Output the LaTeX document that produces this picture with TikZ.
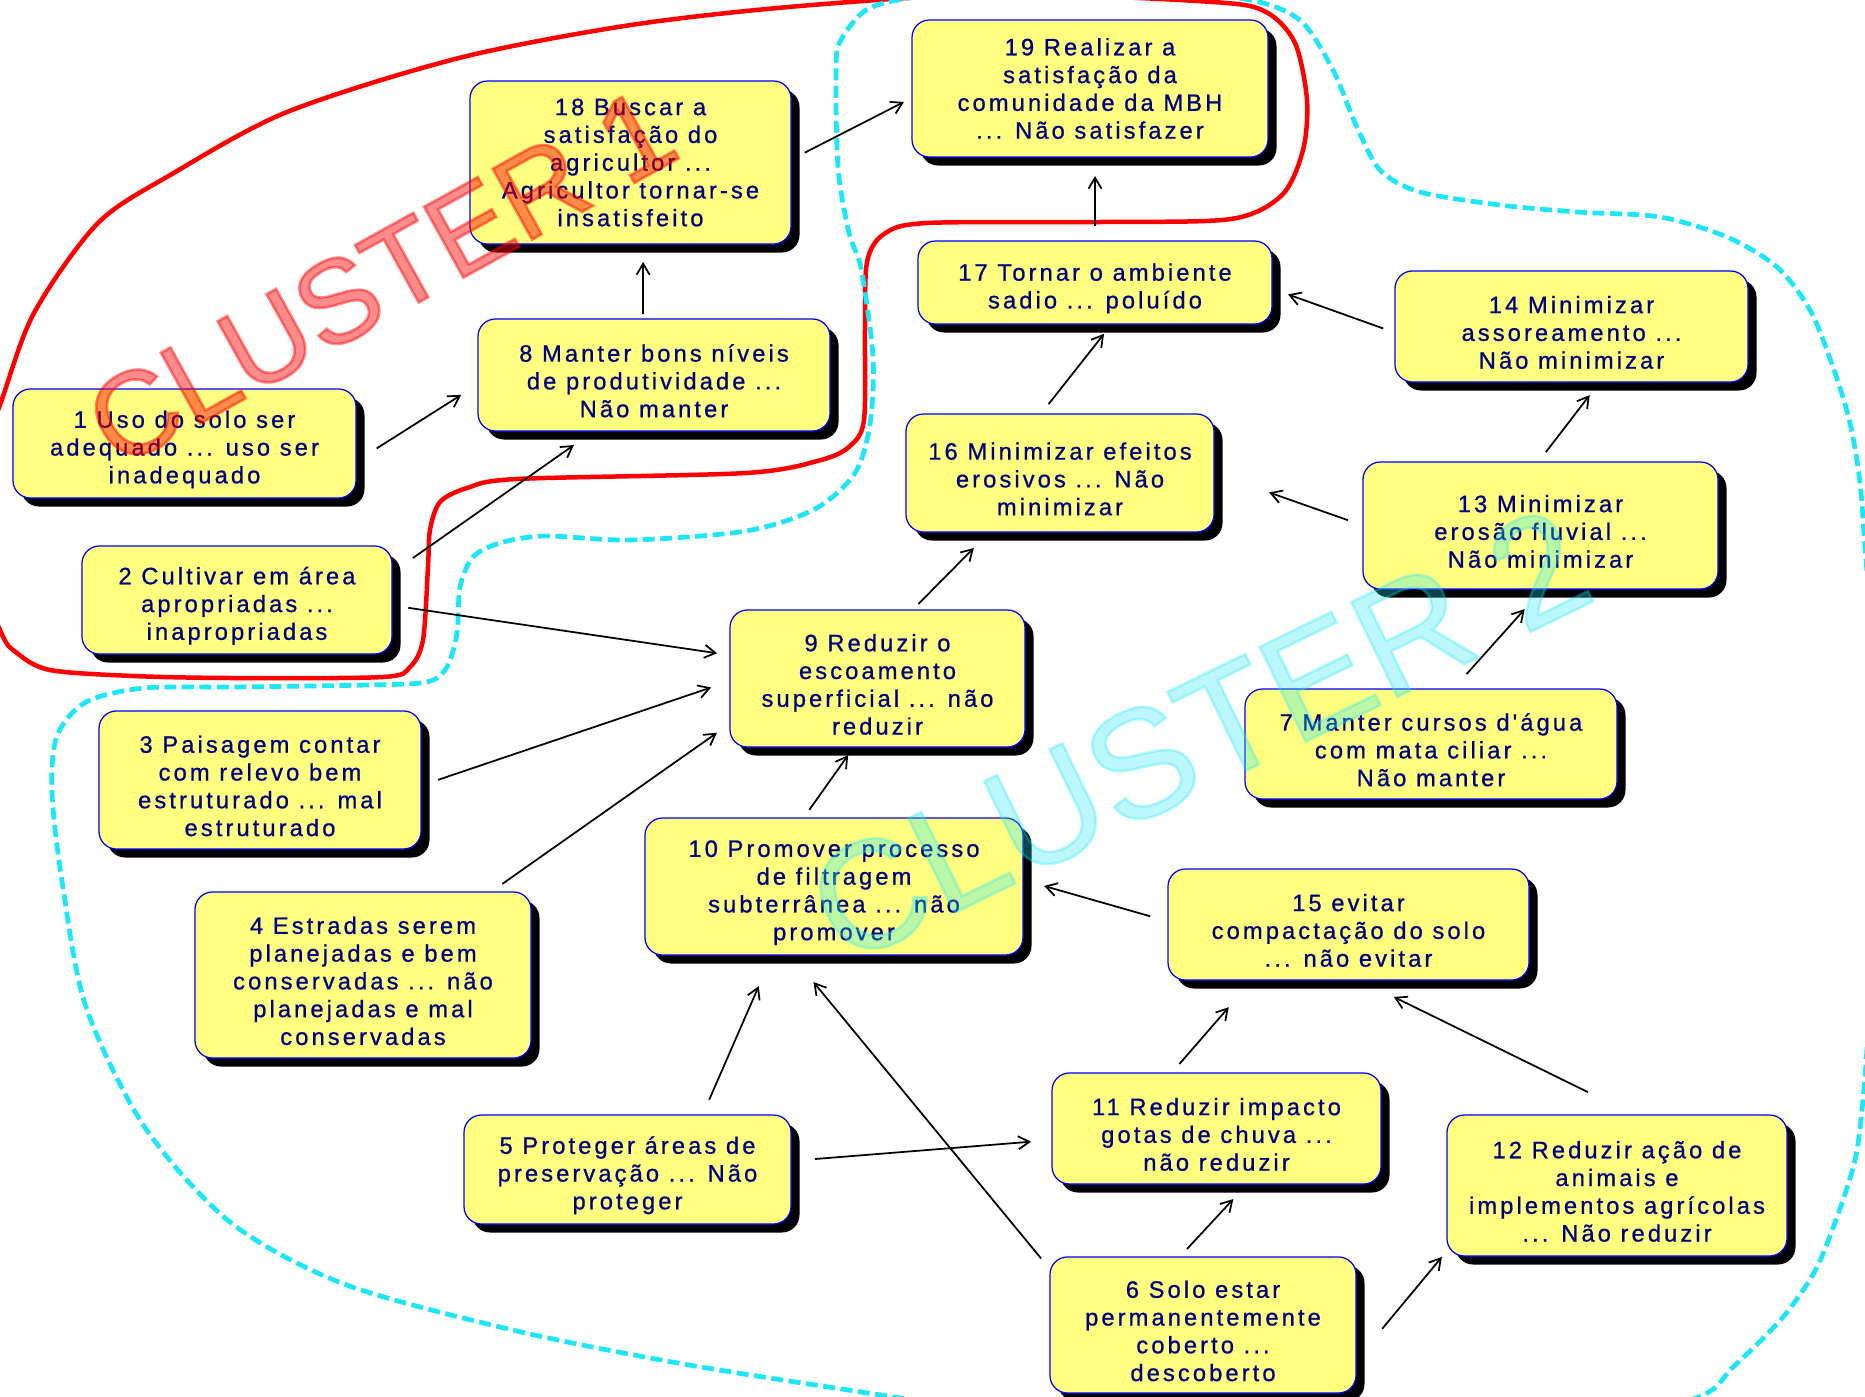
\documentclass[tikz,border=0pt]{standalone}
\usepackage{fontspec}
\setmainfont{Liberation Sans}
\newfontfamily\boxfont[LetterSpace=13, FakeBold=0.8]{Liberation Sans}
\usetikzlibrary{arrows.meta,shadows}

\definecolor{boxfill}{RGB}{255,255,128}
\definecolor{boxtext}{RGB}{0,0,128}
\definecolor{clcyan}{RGB}{30,230,250}
\newcommand\outlined[1]{\special{pdf:literal direct 2 Tr 1.5 w}#1\special{pdf:literal direct 0 Tr}}
\newcommand\topgap{\rule{0pt}{16.5pt}}

\tikzset{
    box/.style={draw=blue, line width=0.25mm, fill=boxfill, rounded corners=3.5mm,
        text=boxtext, align=center, inner sep=0pt, outer sep=0pt,
        font=\boxfont\fontsize{13.5}{15.8}\selectfont,
        drop shadow={shadow xshift=1.7mm, shadow yshift=-1.7mm, fill=black, opacity=1}},
    arr/.style={-{Straight Barb[length=2.2mm,width=2.6mm]}, line width=0.35mm},
    clusterline/.style={red, line width=0.9mm},
    clusterdash/.style={clcyan, line width=0.95mm, dash pattern=on 2.4mm off 1.1mm},
}

\begin{document}
\begin{tikzpicture}[x=0.2mm, y=-0.2mm]
    \useasboundingbox (0,0) rectangle (1865,1397);

    % Cluster borders
    \begin{scope}
        \clip (0,0) rectangle (1865,1397);
        \draw[clusterline] plot[smooth cycle, tension=0.5] coordinates {
            (-40,520) (0,405) (34,313) (98,223) (172,174) (287,112) (459,58) (631,25)
            (800,6) (1000,-6) (1213,2) (1266,12) (1295,43) (1307,100) (1303,150)
            (1282,195) (1231,219) (1100,222) (927,223) (884,234) (867,262) (865,330)
            (864,420) (850,446) (821,460) (746,473) (517,479) (467,488) (440,502)
            (430,530) (428,567) (423,640) (410,667) (383,677) (233,678) (133,676)
            (50,670) (17,653) (0,630)};
        \draw[clusterdash] plot[smooth cycle, tension=0.5] coordinates {
            (866,10) (909,-2) (1000,-12) (1180,-8) (1259,2) (1302,22) (1333,70)
            (1356,125) (1380,170) (1420,192) (1500,205) (1577,212) (1660,217)
            (1727,237) (1777,267) (1810,310) (1833,367) (1850,423) (1860,483)
            (1866,560) (1885,800) (1870,1000) (1865,1077) (1857,1150) (1843,1200)
            (1817,1267) (1783,1317) (1733,1367) (1690,1400) (1500,1440) (1100,1430)
            (900,1398) (689,1365) (517,1331) (344,1284) (230,1222) (144,1126)
            (86,1007) (63,888) (52,793) (57,736) (86,702) (144,688) (233,687)
            (367,685) (427,682) (447,667) (457,633) (460,587) (473,557) (500,543)
            (545,536) (631,540) (746,531) (815,509) (855,473) (870,424) (873,357)
            (861,268) (849,233) (838,167) (836,67) (841,40)};
    \end{scope}

    % Concepts
    \node[box, minimum width=68.6mm, minimum height=21.8mm] (n1) at (184.5,443.5)
        {\topgap 1 Uso do solo ser\\adequado ... uso ser\\inadequado};
    \node[box, minimum width=62mm, minimum height=21.6mm] (n2) at (237,600)
        {\topgap 2 Cultivar em área\\apropriadas ...\\inapropriadas};
    \node[box, minimum width=64.4mm, minimum height=27.6mm] (n3) at (260,780)
        {\topgap 3 Paisagem contar\\com relevo bem\\estruturado ... mal\\estruturado};
    \node[box, minimum width=67.2mm, minimum height=33.2mm] (n4) at (363,975)
        {\topgap 4 Estradas serem\\planejadas e bem\\conservadas ... não\\planejadas e mal\\conservadas};
    \node[box, minimum width=65.4mm, minimum height=21.8mm] (n5) at (627.5,1169.5)
        {\topgap 5 Proteger áreas de\\preservação ... Não\\proteger};
    \node[box, minimum width=61.2mm, minimum height=27.2mm] (n6) at (1203,1325)
        {\topgap 6 Solo estar\\permanentemente\\coberto ...\\descoberto};
    \node[box, minimum width=74.4mm, minimum height=22mm] (n7) at (1431,744)
        {\topgap 7 Manter cursos d'água\\com mata ciliar ...\\Não manter};
    \node[box, minimum width=70.4mm, minimum height=22.4mm] (n8) at (654,375)
        {\topgap 8 Manter bons níveis\\de produtividade ...\\Não manter};
    \node[box, minimum width=59mm, minimum height=27.4mm] (n9) at (877.5,678.5)
        {\topgap 9 Reduzir o\\escoamento\\superficial ... não\\reduzir};
    \node[box, minimum width=75.6mm, minimum height=27.4mm] (n10) at (834,886.5)
        {\topgap 10 Promover processo\\de filtragem\\subterrânea ... não\\promover};
    \node[box, minimum width=65.8mm, minimum height=22.2mm] (n11) at (1216.5,1128.5)
        {\topgap 11 Reduzir impacto\\gotas de chuva ...\\não reduzir};
    \node[box, minimum width=68mm, minimum height=28.2mm] (n12) at (1617,1185.5)
        {\topgap 12 Reduzir ação de\\animais e\\implementos agrícolas\\... Não reduzir};
    \node[box, minimum width=71mm, minimum height=25.4mm] (n13) at (1540.5,525.5)
        {\topgap 13 Minimizar\\erosão fluvial ...\\Não minimizar};
    \node[box, minimum width=70.6mm, minimum height=22.2mm] (n14) at (1571.5,326.5)
        {\topgap 14 Minimizar\\assoreamento ...\\Não minimizar};
    \node[box, minimum width=72.2mm, minimum height=22.2mm] (n15) at (1348.5,924.5)
        {\topgap 15 evitar\\compactação do solo\\... não evitar};
    \node[box, minimum width=61.6mm, minimum height=23.6mm] (n16) at (1060,473)
        {\topgap 16 Minimizar efeitos\\erosivos ... Não\\minimizar};
    \node[box, minimum width=70.8mm, minimum height=16.6mm] (n17) at (1095,282.5)
        {\topgap 17 Tornar o ambiente\\sadio ... poluído};
    \node[box, minimum width=64.2mm, minimum height=32.6mm] (n18) at (630.5,162.5)
        {18 Buscar a\\satisfação do\\agricultor ...\\Agricultor tornar-se\\insatisfeito};
    \node[box, minimum width=71.2mm, minimum height=27.4mm] (n19) at (1090,88.5)
        {19 Realizar a\\satisfação da\\comunidade da MBH\\... Não satisfazer};

    % Influences
    \foreach \a/\b/\s/\e in {
        n1.-6/n8.183/4.9/4, n2.10/n8.223/5.1/4.9, n2.-2.5/n9.171/3.3/2.6,
        n3.-2/n9.181/3.6/4, n4.33/n9.197/2.8/3.2, n10.114/n9.251/2/2,
        n9.63/n16.220/1.7/4.5, n16.108/n17.292/2.5/2.5, n18.1/n19.183/3.1/1.8,
        n14.182/n17.-2/2.5/3.4, n13.92/n14.297/2.5/3.3, n13.west/n16.east/3.2/11.7,
        n7.68/n13.272/4/5.4, n15.179/n10.2/3.7/4.4, n5.36/n10.228/3.3/6.8,
        n6.160/n10.238/2.8/7, n5.3/n11.184/4.8/4.2, n11.129/n15.210/2.4/7.2,
        n6.109/n11.299/2.2/4.1, n12.76/n15.281/10.4/7.7, n6.-13.5/n12.201/8.2/1.6}
        \draw[arr, shorten <=\s mm, shorten >=\e mm] (\a) -- (\b);
    \draw[arr, shorten <=3mm, shorten >=3.8mm] (n17.north) -- (n17.north |- n19.south);
    \draw[arr, shorten <=1mm, shorten >=3.6mm] (n8.101) -- (n8.101 |- n18.south);

    % Cluster names
    \node[rotate=29, text=red, text opacity=0.45, font=\fontsize{67}{70}\selectfont]
        (cl1) at (381,277) {\outlined{CLUSTER 1}};
    \node[rotate=26, text=clcyan, text opacity=0.3, font=\fontsize{87}{90}\selectfont]
        (cl2) at (1199,735) {\outlined{CLUSTER 2}};
\end{tikzpicture}
\end{document}
